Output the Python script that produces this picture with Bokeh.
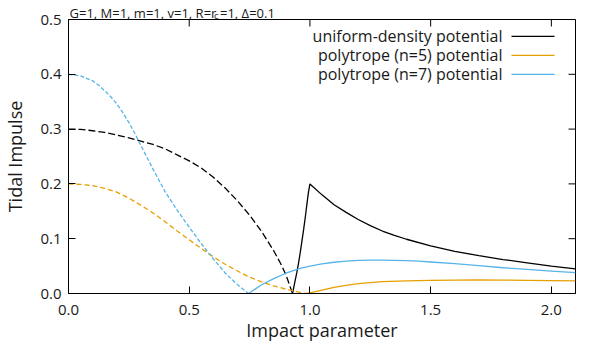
import math
from bokeh.plotting import figure
from bokeh.models import Range1d, FixedTicker, PrintfTickFormatter, Label, Arrow
from bokeh.core.properties import value
from bokeh.embed import file_html
from bokeh.resources import INLINE

# ---- data ----
# uniform-density potential (black): dashed part (b < ~0.93), solid part
uni_dash_b = [0.0, 0.05, 0.1, 0.15, 0.2, 0.25, 0.3, 0.35, 0.4, 0.45, 0.5, 0.55, 0.6,
              0.65, 0.7, 0.75, 0.8, 0.85, 0.877, 0.9, 0.928]
uni_dash_v = [0.300, 0.2995, 0.297, 0.294, 0.289, 0.284, 0.278, 0.272, 0.264, 0.253, 0.242,
              0.229, 0.212, 0.192, 0.169, 0.143, 0.113, 0.078, 0.056, 0.035, 0.0]
uni_sol_b = [0.928, 0.937, 0.946, 0.953, 0.96, 0.967, 0.974, 0.981, 0.988, 0.994, 1.0,
             1.05, 1.1, 1.15, 1.2, 1.25, 1.3, 1.35, 1.4, 1.5, 1.6, 1.7, 1.8, 1.9, 2.0, 2.1]
uni_sol_v = [0.0, 0.020, 0.039, 0.056, 0.075, 0.096, 0.117, 0.140, 0.165, 0.185, 0.200,
             0.180, 0.162, 0.148, 0.135, 0.124, 0.114, 0.106, 0.099, 0.087, 0.077,
             0.069, 0.062, 0.056, 0.050, 0.045]

# polytrope (n=5) potential (orange)
p5_dash_b = [0.0, 0.05, 0.1, 0.15, 0.2, 0.25, 0.3, 0.35, 0.4, 0.45, 0.5, 0.55, 0.6, 0.65,
             0.7, 0.75, 0.8, 0.85, 0.9, 0.95, 0.98]
p5_dash_v = [0.200, 0.199, 0.197, 0.192, 0.185, 0.174, 0.161, 0.147, 0.131, 0.114, 0.098,
             0.082, 0.067, 0.053, 0.041, 0.030, 0.021, 0.014, 0.008, 0.003, 0.0]
p5_sol_b = [0.98, 1.0, 1.05, 1.1, 1.15, 1.2, 1.25, 1.3, 1.4, 1.5, 1.6, 1.7, 1.8, 1.9, 2.0, 2.1]
p5_sol_v = [0.0, 0.001, 0.006, 0.011, 0.015, 0.018, 0.020, 0.0215, 0.023, 0.024, 0.0245,
            0.0247, 0.0245, 0.024, 0.0235, 0.023]

# polytrope (n=7) potential (blue)
p7_dash_b = [0.0, 0.05, 0.1, 0.125, 0.15, 0.175, 0.2, 0.225, 0.25, 0.275, 0.3, 0.35, 0.4,
             0.45, 0.5, 0.55, 0.6, 0.65, 0.7, 0.746]
p7_dash_v = [0.400, 0.397, 0.388, 0.380, 0.370, 0.359, 0.346, 0.330, 0.312, 0.292, 0.270,
             0.227, 0.186, 0.152, 0.121, 0.091, 0.063, 0.037, 0.016, 0.0]
p7_sol_b = [0.746, 0.8, 0.85, 0.9, 0.96, 1.0, 1.05, 1.1, 1.15, 1.2, 1.25, 1.3, 1.35, 1.4,
            1.45, 1.5, 1.6, 1.7, 1.8, 1.9, 2.0, 2.1]
p7_sol_v = [0.0, 0.016, 0.027, 0.037, 0.046, 0.050, 0.054, 0.057, 0.059, 0.0603, 0.061,
            0.061, 0.0605, 0.060, 0.059, 0.0575, 0.0545, 0.051, 0.047, 0.044, 0.041, 0.038]

x_ticks = [0.0, 0.5, 1.0, 1.5, 2.0]
y_ticks = [0.0, 0.1, 0.2, 0.3, 0.4, 0.5]
legend_labels = ["uniform-density potential", "polytrope (n=5) potential", "polytrope (n=7) potential"]
title_parts = ["G=1, M=1, m=1, v=1, R=r", "c", "=1, \u0394=0.1"]

X_MIN, X_MAX = 0.0, 2.1
Y_MIN, Y_MAX = 0.0, 0.5

BLACK = "#000000"
ORANGE = "#E69F00"
BLUE = "#56B4E9"
TXT = "#1a1a1a"
FONT = "Open Sans"

W, H = 584, 344
BL, BR, BT, BB = 68, 9, 19, 50

p = figure(width=W, height=H, output_backend="svg", toolbar_location=None,
           x_range=Range1d(X_MIN, X_MAX), y_range=Range1d(Y_MIN, Y_MAX),
           min_border_left=BL, min_border_right=BR, min_border_top=BT, min_border_bottom=BB,
           x_axis_label="Impact parameter", y_axis_label="Tidal Impulse")
p.grid.visible = False
p.outline_line_color = BLACK
p.outline_line_width = 1
p.background_fill_color = "white"
p.border_fill_color = "white"

TICK = 7
for ax, ticks in ((p.xaxis[0], x_ticks), (p.yaxis[0], y_ticks)):
    ax.ticker = FixedTicker(ticks=ticks)
    ax.formatter = PrintfTickFormatter(format="%.1f")
    ax.major_tick_in = TICK
    ax.major_tick_out = 0
    ax.minor_tick_line_color = None
    ax.major_tick_line_color = BLACK
    ax.axis_line_color = BLACK
    ax.major_label_text_font = FONT
    ax.major_label_text_font_size = "15px"
    ax.major_label_text_color = TXT
    ax.axis_label_text_font = FONT
    ax.axis_label_text_font_size = "18px"
    ax.axis_label_text_font_style = "normal"
    ax.axis_label_text_color = TXT

p.yaxis[0].major_label_standoff = 7
p.yaxis[0].axis_label_standoff = 10
p.xaxis[0].major_label_standoff = 11
p.xaxis[0].axis_label_standoff = 0

# mirrored inward ticks on the top and right frame edges (dash markers clipped by the frame)
p.scatter(x_ticks, [Y_MAX] * len(x_ticks), marker="dash", size=2 * TICK, angle=math.pi / 2,
          line_color=BLACK, line_width=1)
p.scatter([X_MAX] * len(y_ticks), y_ticks, marker="dash", size=2 * TICK,
          line_color=BLACK, line_width=1)

LW = 1.3
p.line(uni_dash_b, uni_dash_v, line_color=BLACK, line_width=LW, line_dash="7 3")
p.line(uni_sol_b, uni_sol_v, line_color=BLACK, line_width=LW)
p.line(p5_dash_b, p5_dash_v, line_color=ORANGE, line_width=LW, line_dash="5 3")
p.line(p5_sol_b, p5_sol_v, line_color=ORANGE, line_width=LW)
p.line(p7_dash_b, p7_dash_v, line_color=BLUE, line_width=LW, line_dash="4 2")
p.line(p7_sol_b, p7_sol_v, line_color=BLUE, line_width=LW)

# helpers: canvas pixel -> data coordinate
FL, FR, FT, FB = BL, W - BR, BT, H - BB
def px_x(px):
    return X_MIN + (px - FL) / (FR - FL) * (X_MAX - X_MIN)
def px_y(py):
    return Y_MIN + (FB - py) / (FB - FT) * (Y_MAX - Y_MIN)

# gnuplot-style key: right-aligned text, sample line to the right
for lab, col, py in zip(legend_labels, [BLACK, ORANGE, BLUE], [36, 55, 74]):
    p.add_layout(Label(x=px_x(502), y=px_y(py), text=lab, text_align="right",
                       text_baseline="middle", text_font=FONT, text_font_size="16px",
                       text_color=TXT))
    p.add_layout(Arrow(x_start=px_x(511), y_start=px_y(py), x_end=px_x(554), y_end=px_y(py),
                       end=None, line_color=col, line_width=LW))

# title with subscript c, drawn above the frame (annotation level -> not clipped to the frame)
for part, px, py, fs in zip(title_parts, [69, 213.5, 219.5], [12, 15, 12], ["13px", "9.5px", "13px"]):
    p.text(x=[px_x(px)], y=[px_y(py)], text=[part], text_align="left",
           text_baseline="alphabetic", text_font=value(FONT), text_font_size=value(fs),
           text_color=TXT, level="annotation")

open("out.html", "w").write(file_html(p, INLINE))
